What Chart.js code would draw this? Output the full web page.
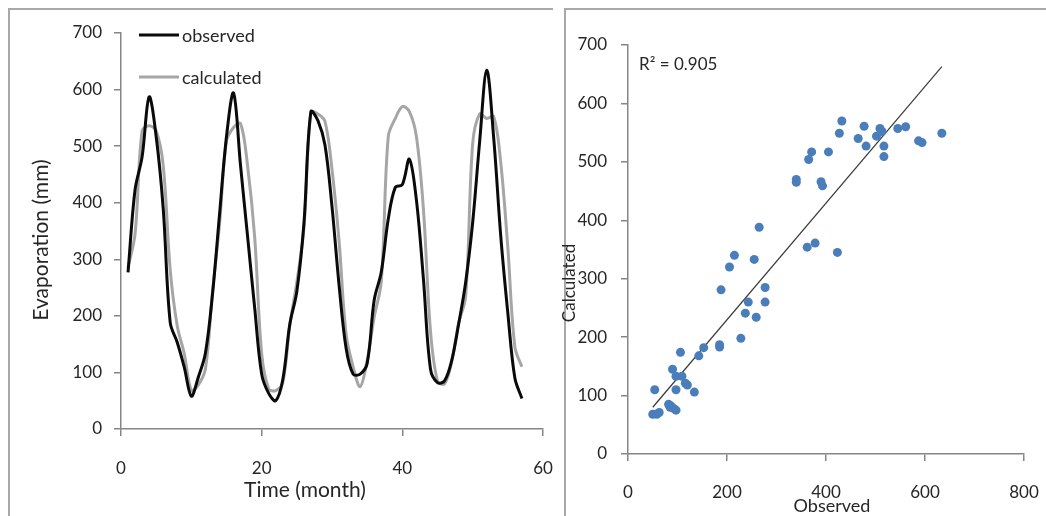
<!DOCTYPE html>
<html>
<head>
<meta charset="utf-8">
<title>Evaporation - observed and calculated</title>
<script src="https://cdn.jsdelivr.net/npm/chart.js@4.4.1/dist/chart.umd.min.js"></script>
<style>
    html, body { margin: 0; padding: 0; background: #fff; }
    body { width: 1046px; height: 516px; position: relative; overflow: hidden; }
    .panel { position: absolute; top: 0; }
    #left-panel { left: 0; width: 560px; height: 516px; }
    #right-panel { left: 560px; width: 486px; height: 516px; }
    .frame { position: absolute; background: #a8a8a8; }
</style>
</head>
<body>
<!-- panel frames -->
<div class="frame" style="left:8px; top:8px; width:545px; height:2px"></div>
<div class="frame" style="left:8px; top:8px; width:2px; height:508px"></div>
<div class="frame" style="left:564px; top:8px; width:482px; height:2px"></div>
<div class="frame" style="left:564px; top:8px; width:2px; height:508px"></div>

<div class="panel" id="left-panel"><canvas id="series-chart" width="560" height="516"></canvas></div>
<div class="panel" id="right-panel"><canvas id="scatter-chart" width="486" height="516"></canvas></div>

<script>
// Monthly evaporation (mm), month 1 to 57
const observed = [
    277, 423, 481, 587, 517, 390, 188, 153, 109, 58, 92, 134,
    237, 378, 517, 594, 465, 340, 215, 97, 63, 50,
    87, 185, 243, 362, 561, 545, 502, 393, 255, 143, 97, 97, 116,
    228, 277, 371, 427, 432, 477, 405, 265, 106, 82, 85, 120,
    185, 259, 365, 509, 634, 513, 340, 205, 90, 54
];
const calculated = [
    285, 345, 527, 536, 527, 466, 281, 182, 133, 68, 78, 106,
    241, 361, 509, 533, 540, 465, 340, 133, 71, 68,
    82, 183, 260, 354, 560, 557, 544, 459, 333, 168, 110, 75, 121,
    198, 260, 517, 549, 570, 561, 517, 388, 174, 85, 80, 118,
    187, 234, 504, 557, 549, 552, 470, 320, 145, 110
];

// Linear trend line end points (observed -> calculated)
const trendObserved = [50, 634];
const trendCalculated = [80, 663];
const rSquaredLabel = 'R\u00B2 = 0.905';

// Axis ticks
const monthTicks = [0, 20, 40, 60];
const evapTicks = [0, 100, 200, 300, 400, 500, 600, 700];
const observedTicks = [0, 200, 400, 600, 800];

const axisColor = '#868686';
const textColor = '#262626';
const fontFamily = 'Lato, "Open Sans", sans-serif';

// Free text: axis titles and annotations
const textLayer = {
    id: 'textLayer',
    afterDraw(chart, args, opts) {
        const ctx = chart.ctx;
        (opts.items || []).forEach(item => {
            ctx.save();
            ctx.font = item.size + 'px ' + fontFamily;
            ctx.fillStyle = textColor;
            ctx.textAlign = item.align || 'center';
            ctx.textBaseline = 'middle';
            ctx.translate(item.x, item.y);
            if (item.rotate) ctx.rotate(item.rotate);
            ctx.fillText(item.text, 0, 0);
            ctx.restore();
        });
    }
};

// Legend drawn inside the plot, one row per dataset
const lineLegend = {
    id: 'lineLegend',
    afterDraw(chart, args, opts) {
        const ctx = chart.ctx;
        chart.data.datasets.forEach((ds, i) => {
            const y = opts.y + i * opts.rowGap;
            ctx.save();
            ctx.strokeStyle = ds.borderColor;
            ctx.lineWidth = ds.borderWidth;
            ctx.beginPath();
            ctx.moveTo(opts.x, y);
            ctx.lineTo(opts.x + opts.lineLength, y);
            ctx.stroke();
            ctx.font = opts.size + 'px ' + fontFamily;
            ctx.fillStyle = textColor;
            ctx.textAlign = 'left';
            ctx.textBaseline = 'middle';
            ctx.fillText(ds.label, opts.x + opts.lineLength + 3, y + 1);
            ctx.restore();
        });
    }
};

function axis(min, max, ticks, extra) {
    return Object.assign({
        type: 'linear',
        min: min,
        max: max,
        afterBuildTicks: scale => { scale.ticks = ticks.map(v => ({ value: v })); },
        border: { display: true, color: axisColor, width: 1.5 },
        grid: { display: true, drawOnChartArea: false, drawTicks: true, tickLength: 7, color: axisColor, lineWidth: 1.5 },
        ticks: { color: textColor, font: { family: fontFamily, size: 17 } }
    }, extra);
}

// Horizontal axis with a fixed height and no label overhang padding
function fitBottom(height) {
    return scale => {
        scale.height = height;
        scale.paddingLeft = 0;
        scale.paddingRight = 0;
    };
}

function drawCharts() {
    // Time series: observed vs calculated
    new Chart(document.getElementById('series-chart'), {
        type: 'line',
        data: {
            datasets: [{
                label: 'observed',
                data: observed.map((v, i) => ({ x: i + 1, y: v })),
                borderColor: '#0a0a0a',
                borderWidth: 3,
                pointRadius: 0,
                tension: 0.35
            }, {
                label: 'calculated',
                data: calculated.map((v, i) => ({ x: i + 1, y: v })),
                borderColor: '#a6a6a6',
                borderWidth: 3,
                pointRadius: 0,
                tension: 0.35
            }]
        },
        options: {
            responsive: false,
            animation: false,
            events: [],
            layout: { padding: { top: 33, right: 17, left: 0, bottom: 0 } },
            scales: {
                x: axis(0, 60, monthTicks, {
                    afterFit: fitBottom(87),
                    ticks: { color: textColor, font: { family: fontFamily, size: 17 }, padding: 22 }
                }),
                y: axis(0, 700, evapTicks, {
                    afterFit: scale => { scale.width = 121; },
                    ticks: { color: textColor, font: { family: fontFamily, size: 17 }, padding: 12 }
                })
            },
            plugins: {
                legend: { display: false },
                tooltip: { enabled: false },
                lineLegend: { x: 139, y: 35, rowGap: 42, lineLength: 40, size: 18 },
                textLayer: {
                    items: [
                        { text: 'Evaporation (mm)', x: 41, y: 240, size: 21, rotate: -Math.PI / 2 },
                        { text: 'Time (month)', x: 305, y: 490, size: 21 }
                    ]
                }
            }
        },
        plugins: [lineLegend, textLayer]
    });

    // Scatter of calculated against observed with trend line
    new Chart(document.getElementById('scatter-chart'), {
        type: 'scatter',
        data: {
            datasets: [{
                label: 'points',
                data: observed.map((v, i) => ({ x: v, y: calculated[i] })),
                backgroundColor: '#4a7ebb',
                borderWidth: 0,
                pointRadius: 4.5
            }, {
                type: 'line',
                label: 'trend',
                data: trendObserved.map((v, i) => ({ x: v, y: trendCalculated[i] })),
                borderColor: '#3a3a3a',
                borderWidth: 1.2,
                pointRadius: 0,
                showLine: true
            }]
        },
        options: {
            responsive: false,
            animation: false,
            events: [],
            layout: { padding: { top: 45, right: 22, left: 0, bottom: 0 } },
            scales: {
                x: axis(0, 800, observedTicks, {
                    afterFit: fitBottom(62),
                    ticks: { color: textColor, font: { family: fontFamily, size: 17 }, padding: 21 }
                }),
                y: axis(0, 700, evapTicks, {
                    afterFit: scale => { scale.width = 68; },
                    ticks: { color: textColor, font: { family: fontFamily, size: 17 }, padding: 14 }
                })
            },
            plugins: {
                legend: { display: false },
                tooltip: { enabled: false },
                textLayer: {
                    items: [
                        { text: 'Calculated', x: 10, y: 283, size: 17, rotate: -Math.PI / 2 },
                        { text: 'Observed', x: 272, y: 506, size: 18 },
                        { text: rSquaredLabel, x: 79, y: 65, size: 17, align: 'left' }
                    ]
                }
            }
        },
        plugins: [textLayer]
    });
}

document.fonts.load('17px Lato').then(drawCharts, drawCharts);
</script>
</body>
</html>
